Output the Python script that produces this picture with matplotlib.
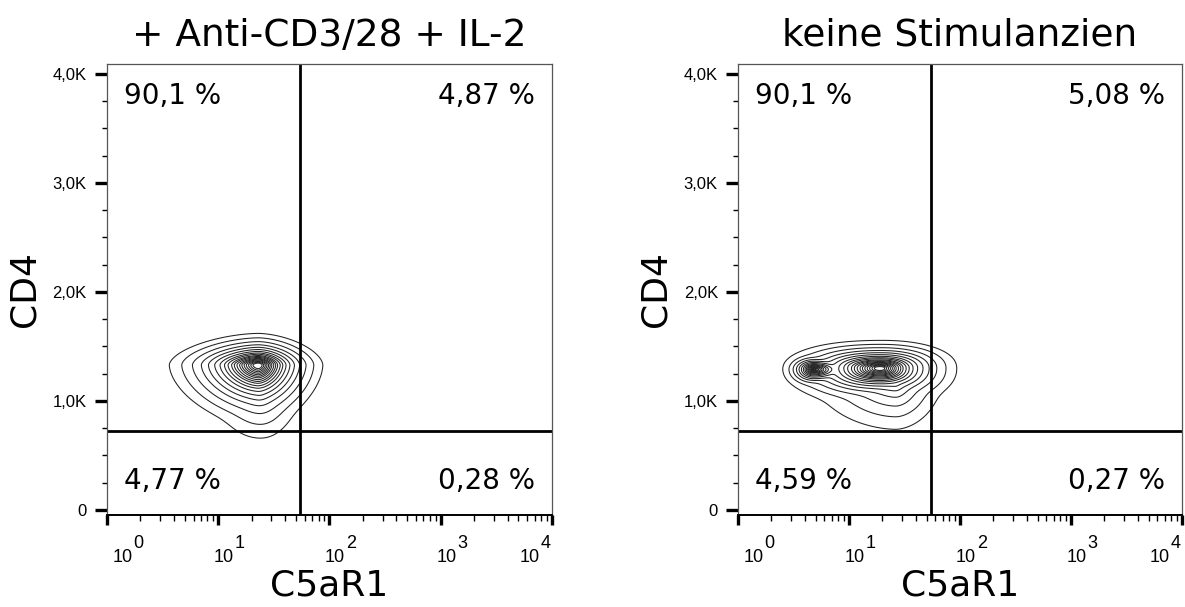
import numpy as np
import matplotlib
matplotlib.use("Agg")
import matplotlib.pyplot as plt
from matplotlib.ticker import FixedLocator, MultipleLocator, LogLocator, NullFormatter
import matplotlib.transforms as mtransforms

plt.rcParams['font.family'] = ['DejaVu Sans']

# ----------------------------------------------------------
# Data
# ----------------------------------------------------------
titles = ["+ Anti-CD3/28 + IL-2", "keine Stimulanzien"]
x_label = "C5aR1"
y_label = "CD4"

# quadrant gates (x in C5aR1 units, y in CD4 units)
gate_x = [54, 55]
gate_y = [720, 725]

# quadrant percentages: upper-left, upper-right, lower-left, lower-right
q_upper_left = ["90,1 %", "90,1 %"]
q_upper_right = ["4,87 %", "5,08 %"]
q_lower_left = ["4,77 %", "4,59 %"]
q_lower_right = ["0,28 %", "0,27 %"]

# population shapes: centre (log10 C5aR1, CD4) and outer reach of the
# outermost contour to the left/right (decades) and down/up (CD4 units);
# floor = innermost contour level a component still shows up in
left_cx = [1.36, 1.38]
left_cy = [1330, 1080]
left_reach_l = [0.80, 0.38]
left_reach_r = [0.58, 0.32]
left_reach_d = [560, 420]
left_reach_u = [290, 280]
left_shape = [1.7, 2.0]
left_floor = [0.0, 0.55]

right_cx = [1.28, 0.68, 1.42]
right_cy = [1300, 1290, 1150]
right_reach_l = [0.86, 0.26, 0.70]
right_reach_r = [0.69, 0.45, 0.40]
right_reach_d = [330, 170, 410]
right_reach_u = [255, 150, 330]
right_shape = [2.2, 2.0, 1.8]
right_floor = [0.0, 0.12, 0.50]

# contour radii, as fraction of the outermost contour
contour_r = [0.06, 0.085, 0.11, 0.135, 0.16, 0.185, 0.21, 0.24, 0.27, 0.30,
             0.34, 0.38, 0.43, 0.49, 0.56, 0.64, 0.74, 0.86, 1.0]

y_ticks = [0, 1000, 2000, 3000, 4000]
y_tick_labels = ["0", "1,0K", "2,0K", "3,0K", "4,0K"]
x_ticks = [1, 10, 100, 1000, 10000]
x_exponents = ["0", "1", "2", "3", "4"]

panels = [
    (left_cx, left_cy, left_reach_l, left_reach_r, left_reach_d, left_reach_u, left_shape, left_floor),
    (right_cx, right_cy, right_reach_l, right_reach_r, right_reach_d, right_reach_u, right_shape, right_floor),
]


def shape_radius(lx, ly, cx, cy, rl, rr, rd, ru, p, floor):
    sx = np.where(lx < cx, rl, rr)
    sy = np.where(ly < cy, rd, ru)
    r = (np.abs((lx - cx) / sx) ** p + np.abs((ly - cy) / sy) ** p) ** (1.0 / p)
    return floor + (1.0 - floor) * r


fig = plt.figure(figsize=(11.85, 6.07), dpi=100)
axes = [fig.add_axes([0.0903, 0.1516, 0.3755, 0.743]),
        fig.add_axes([0.6228, 0.1516, 0.3747, 0.743])]

gx = np.linspace(0, 4, 700)
gy = np.linspace(-60, 4100, 900)
LX, LY = np.meshgrid(gx, gy)
smooth = 0.05

for i, ax in enumerate(axes):
    cx, cy, rl, rr, rd, ru, pp, fl = panels[i]
    acc = np.zeros_like(LX)
    for k in range(len(cx)):
        rk = shape_radius(LX, LY, cx[k], cy[k], rl[k], rr[k], rd[k], ru[k], pp[k], fl[k])
        acc += np.exp(-np.minimum(rk, 5.0) / smooth)
    # soft minimum keeps the merged outline smooth
    rad = -smooth * np.log(acc + 1e-300)
    ax.contour(10 ** LX, LY, rad, levels=contour_r, colors='#222222', linewidths=0.75)

    ax.set_xscale('log')
    ax.set_xlim(1, 10000)
    ax.set_ylim(-46, 4092)

    ax.axvline(gate_x[i], color='black', lw=2.0)
    ax.axhline(gate_y[i], color='black', lw=2.0)

    ax.text(0.038, 0.96, q_upper_left[i], transform=ax.transAxes, fontsize=20, va='top', ha='left')
    ax.text(0.962, 0.96, q_upper_right[i], transform=ax.transAxes, fontsize=20, va='top', ha='right')
    ax.text(0.038, 0.045, q_lower_left[i], transform=ax.transAxes, fontsize=20, va='bottom', ha='left')
    ax.text(0.962, 0.045, q_lower_right[i], transform=ax.transAxes, fontsize=20, va='bottom', ha='right')

    ax.set_title(titles[i], fontsize=27, pad=13)
    ax.set_xlabel(x_label, fontsize=26, labelpad=28)
    ax.set_ylabel(y_label, fontsize=26, labelpad=8)

    # axes look
    for s in ['top', 'right', 'left']:
        ax.spines[s].set_color('#555555')
        ax.spines[s].set_linewidth(0.9)
    ax.spines['bottom'].set_linewidth(1.4)

    ax.yaxis.set_major_locator(FixedLocator(y_ticks))
    ax.set_yticklabels(y_tick_labels, fontsize=12, family='Liberation Sans')
    ax.yaxis.set_minor_locator(MultipleLocator(250))
    ax.tick_params(axis='y', which='major', length=8.5, width=2.4, pad=6)
    ax.tick_params(axis='y', which='minor', length=3.8, width=1.0)

    # x ticks: labels drawn by hand as "10" plus a raised exponent
    ax.xaxis.set_major_locator(FixedLocator(x_ticks))
    ax.xaxis.set_major_formatter(NullFormatter())
    ax.xaxis.set_minor_locator(LogLocator(base=10, subs=np.arange(2, 10)))
    ax.xaxis.set_minor_formatter(NullFormatter())
    ax.tick_params(axis='x', which='major', length=7, width=2.4)
    ax.tick_params(axis='x', which='minor', length=4, width=1.0)

    trans = mtransforms.blended_transform_factory(ax.transData, ax.transAxes)
    for j, t in enumerate(x_ticks):
        if j == 0:
            dx = 11
        elif j == len(x_ticks) - 1:
            dx = -16
        else:
            dx = 4
        ax.annotate("10", xy=(t, 0), xycoords=trans, xytext=(dx, -34), textcoords='offset points',
                    ha='center', va='baseline', fontsize=13, family='Liberation Sans')
        ax.annotate(x_exponents[j], xy=(t, 0), xycoords=trans, xytext=(dx + 8, -24),
                    textcoords='offset points', ha='left', va='baseline', fontsize=13,
                    family='Liberation Sans')

fig.savefig("out.png", dpi=100)
